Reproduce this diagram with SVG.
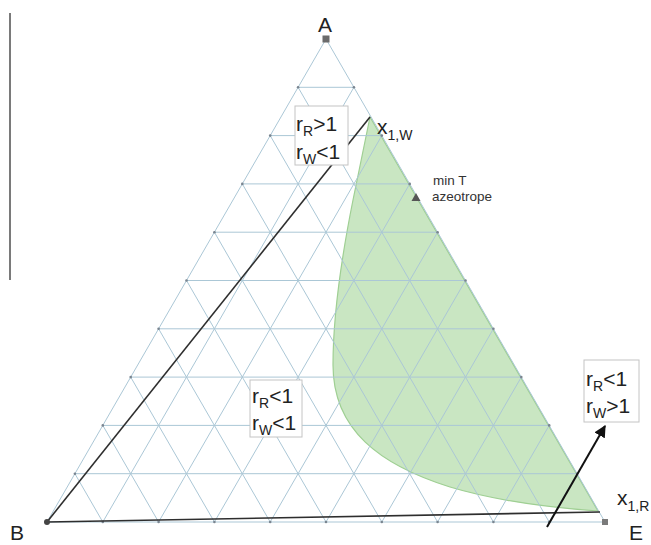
<svg xmlns="http://www.w3.org/2000/svg" width="651" height="545" viewBox="0 0 651 545">
<style>
.grid{stroke:#abc7d6;stroke-width:1;fill:none}
.tick{fill:#7a8590}
.dark{stroke:#2e2e2e;stroke-width:1.6;fill:none}
.box{fill:#fff;stroke:#c4c4c4;stroke-width:1}
.lbl{font-family:"Liberation Sans",Arial,sans-serif;font-size:21px;fill:#222}
.sub{font-size:14px}
.small{font-family:"Liberation Sans",Arial,sans-serif;font-size:13.5px;fill:#333}
</style>
<defs>
<marker id="arr" viewBox="0 0 10 10" refX="9" refY="5" markerWidth="6" markerHeight="6" orient="auto" markerUnits="strokeWidth">
<path d="M0,0 L10,5 L0,10 Z" fill="#111"/>
</marker>
</defs>
<rect width="651" height="545" fill="#fff"/>
<line x1="10" y1="13" x2="10" y2="280" stroke="#7a7a7a" stroke-width="2"/>
<g id="region">
<path d="M370,117 L353,200 C343,250 333,310 333,365 C333,430 380,465 450,487 C500,502 555,508 598,511 Z" fill="#c9e6c2" stroke="#9fcf93" stroke-width="1.2"/>
</g>
<g id="grid" class="grid">
<path d="M326,39 L47,522 L605,522 Z"/>
<path d="M74.9,473.7H577.1M102.8,425.4H549.2M130.7,377.1H521.3M158.6,328.8H493.4M186.5,280.5H465.5M214.4,232.2H437.6M242.3,183.9H409.7M270.2,135.6H381.8M298.1,87.3H353.9"/>
<path d="M102.8,522L353.9,87.3M158.6,522L381.8,135.6M214.4,522L409.7,183.9M270.2,522L437.6,232.2M326,522L465.5,280.5M381.8,522L493.4,328.8M437.6,522L521.3,377.1M493.4,522L549.2,425.4M549.2,522L577.1,473.7"/>
<path d="M102.8,522L74.9,473.7M158.6,522L102.8,425.4M214.4,522L130.7,377.1M270.2,522L158.6,328.8M326,522L186.5,280.5M381.8,522L214.4,232.2M437.6,522L242.3,183.9M493.4,522L270.2,135.6M549.2,522L298.1,87.3"/>
</g>
<g id="ticks" class="tick">
<circle cx="74.9" cy="473.7" r="1.3"/><circle cx="102.8" cy="425.4" r="1.3"/><circle cx="130.7" cy="377.1" r="1.3"/><circle cx="158.6" cy="328.8" r="1.3"/><circle cx="186.5" cy="280.5" r="1.3"/><circle cx="214.4" cy="232.2" r="1.3"/><circle cx="242.3" cy="183.9" r="1.3"/><circle cx="270.2" cy="135.6" r="1.3"/><circle cx="298.1" cy="87.3" r="1.3"/>
<circle cx="577.1" cy="473.7" r="1.3"/><circle cx="549.2" cy="425.4" r="1.3"/><circle cx="521.3" cy="377.1" r="1.3"/><circle cx="493.4" cy="328.8" r="1.3"/><circle cx="465.5" cy="280.5" r="1.3"/><circle cx="437.6" cy="232.2" r="1.3"/><circle cx="409.7" cy="183.9" r="1.3"/><circle cx="381.8" cy="135.6" r="1.3"/><circle cx="353.9" cy="87.3" r="1.3"/>
<circle cx="102.8" cy="522" r="1.3"/><circle cx="158.6" cy="522" r="1.3"/><circle cx="214.4" cy="522" r="1.3"/><circle cx="270.2" cy="522" r="1.3"/><circle cx="326" cy="522" r="1.3"/><circle cx="381.8" cy="522" r="1.3"/><circle cx="437.6" cy="522" r="1.3"/><circle cx="493.4" cy="522" r="1.3"/><circle cx="549.2" cy="522" r="1.3"/>
</g>
<g id="connectors">
<line id="x1W-line" class="dark" x1="47" y1="522" x2="370" y2="117"/>
<line id="x1R-line" class="dark" x1="47" y1="522" x2="600" y2="512"/>
<line id="arrow" x1="547" y1="527" x2="605" y2="426" stroke="#111" stroke-width="2" marker-end="url(#arr)"/>
</g>
<g id="node-A">
<rect x="322.5" y="35.5" width="7" height="7" fill="#6b6b6b"/>
<text class="lbl" x="325" y="32" text-anchor="middle" font-size="22">A</text>
</g>
<g id="node-B">
<circle cx="47" cy="522" r="3" fill="#444"/>
<text class="lbl" x="10" y="540">B</text>
</g>
<g id="node-E">
<rect x="602" y="519" width="6" height="6" fill="#7a7a7a"/>
<text class="lbl" x="629" y="540">E</text>
</g>
<g id="box-RgtWlt">
<rect class="box" x="295" y="106" width="53" height="59"/>
<text class="lbl" x="296" y="131">r<tspan class="sub" dy="5">R</tspan><tspan dy="-5">&gt;1</tspan></text>
<text class="lbl" x="296" y="159">r<tspan class="sub" dy="5">W</tspan><tspan dy="-5">&lt;1</tspan></text>
</g>
<g id="box-RltWlt">
<rect class="box" x="250" y="380" width="52" height="57"/>
<text class="lbl" x="252" y="403">r<tspan class="sub" dy="5">R</tspan><tspan dy="-5">&lt;1</tspan></text>
<text class="lbl" x="252" y="430">r<tspan class="sub" dy="5">W</tspan><tspan dy="-5">&lt;1</tspan></text>
</g>
<g id="box-RltWgt">
<rect class="box" x="584" y="360" width="55" height="62"/>
<text class="lbl" x="586" y="386">r<tspan class="sub" dy="5">R</tspan><tspan dy="-5">&lt;1</tspan></text>
<text class="lbl" x="586" y="413">r<tspan class="sub" dy="5">W</tspan><tspan dy="-5">&gt;1</tspan></text>
</g>
<g id="label-x1W">
<text class="lbl" x="377" y="134">x<tspan class="sub" dy="6">1,W</tspan></text>
</g>
<g id="label-x1R">
<text class="lbl" x="617" y="505">x<tspan class="sub" dy="6">1,R</tspan></text>
</g>
<g id="azeotrope">
<path d="M416,193 L420.5,201 L411.5,201 Z" fill="#555"/>
<text class="small" x="433" y="185">min T</text>
<text class="small" x="432" y="201">azeotrope</text>
</g>
</svg>
